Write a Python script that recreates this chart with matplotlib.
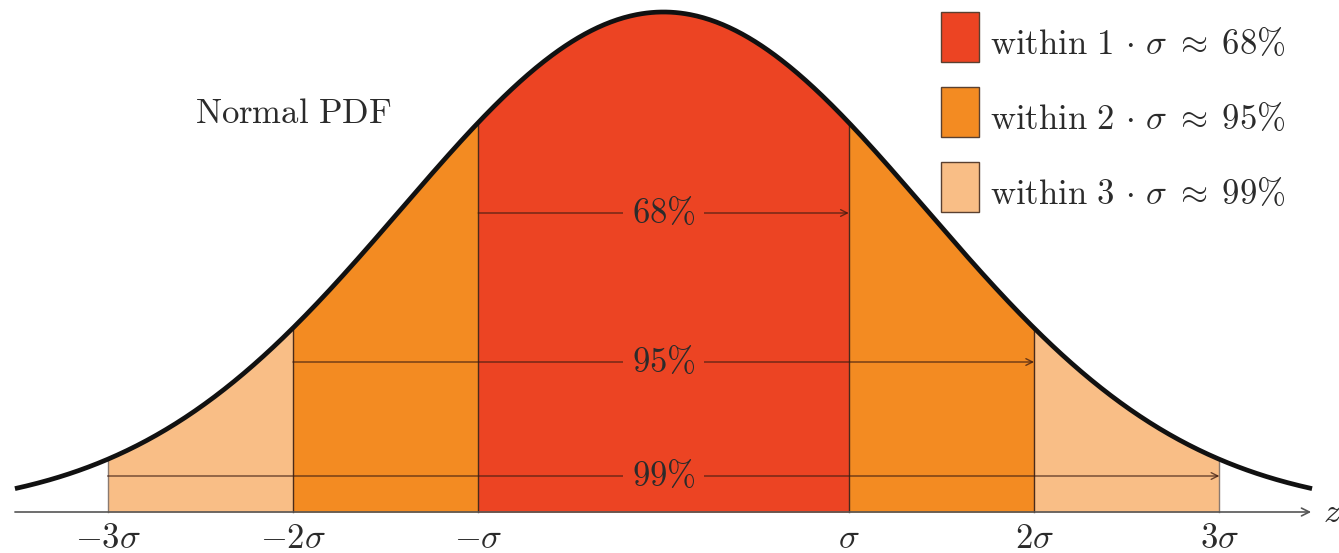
import numpy as np
import matplotlib
matplotlib.use("Agg")
import matplotlib.pyplot as plt
from matplotlib.patches import Rectangle

plt.rcParams["mathtext.fontset"] = "cm"

# bands: k-sigma, share of mass, fill colour
band_k = [1, 2, 3]
band_pct = [68, 95, 99]
band_colors = ["#ec4423", "#f38b22", "#f9be86"]
arrow_y = [0.598, 0.300, 0.072]          # height of the span arrows (peak = 1)

tick_z = [-3, -2, -1, 1, 2, 3]
tick_labels = [r"$-3\sigma$", r"$-2\sigma$", r"$-\sigma$", r"$\sigma$", r"$2\sigma$", r"$3\sigma$"]

Z_MIN, Z_MAX = -3.5, 3.5
FS = 25
TXT = "#2b2b2b"


def curve(z):
    # drawn shape: exp(-z^2/4) scaled to unit peak
    return np.exp(-z ** 2 / 4.0)


fig = plt.figure(figsize=(13.39, 5.53), dpi=100)
ax = fig.add_axes([0, 0, 1, 1])
ax.set_xlim(-663.5 / 185.3, 675.5 / 185.3)
ax.set_ylim(-41 / 500, 512 / 500)
ax.axis("off")

# filled bands, widest first
for k, col in sorted(zip(band_k, band_colors), reverse=True):
    zz = np.linspace(-k, k, 400)
    ax.fill_between(zz, 0, curve(zz), color=col, lw=0, zorder=1)

# vertical boundaries
for k in band_k:
    for s in (-1, 1):
        c = "#8a7a70" if k == 3 else "#4a2a1a"
        ax.plot([s * k, s * k], [0, curve(k)], color=c, lw=1.0, zorder=2)

# span arrows with centred labels
for k, p, y in zip(band_k, band_pct, arrow_y):
    ax.annotate("", xy=(k, y), xytext=(-k, y),
                arrowprops=dict(arrowstyle="->", color="#3a1a10", lw=1.0,
                                alpha=0.75, shrinkA=0, shrinkB=0,
                                mutation_scale=12), zorder=3)
    ax.text(0, y, rf"${p}\%$", fontsize=FS, color=TXT, ha="center", va="center",
            zorder=4, bbox=dict(facecolor=band_colors[0], edgecolor="none", pad=6))

# curve
zz = np.linspace(Z_MIN, Z_MAX, 800)
ax.plot(zz, curve(zz), color="#111111", lw=3.4, zorder=5, solid_capstyle="butt")

# z axis
ax.annotate("", xy=(3.495, 0), xytext=(Z_MIN, 0),
            arrowprops=dict(arrowstyle="->", color="#555555", lw=1.2,
                            shrinkA=0, shrinkB=0, mutation_scale=14), zorder=2)
ax.text(3.56, 0, r"$z$", fontsize=FS, color=TXT, ha="left", va="center")
for z, lab in zip(tick_z, tick_labels):
    ax.text(z, -0.053, lab, fontsize=FS, color=TXT, ha="center", va="center")

ax.text(-2.0, 0.798, r"$\mathrm{Normal\ PDF}$", fontsize=FS, color=TXT,
        ha="center", va="center")

# legend, drawn by hand in pixel-like axes fractions
W, H = 1339.0, 553.0
for i, (k, p, col) in enumerate(zip(band_k, band_pct, band_colors)):
    top = 12 + i * 75
    ax.add_patch(Rectangle((941 / W, 1 - (top + 50) / H), 38 / W, 50 / H,
                           transform=ax.transAxes, facecolor=col,
                           edgecolor="#5a4030", lw=1.0, zorder=6))
    ax.text(990 / W, 1 - (top + 42) / H,
            rf"$\mathrm{{within}}\ {k}\,\cdot\,\sigma\;\approx\;{p}\%$",
            transform=ax.transAxes, fontsize=FS, color=TXT,
            ha="left", va="baseline", zorder=6)

fig.savefig("out.png", dpi=100)
